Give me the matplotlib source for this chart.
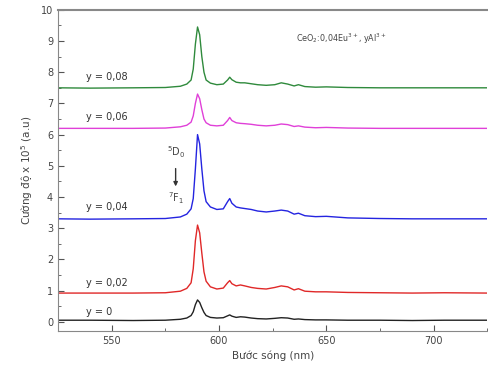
import matplotlib
matplotlib.use("Agg")
import matplotlib.pyplot as plt
from matplotlib.ticker import MultipleLocator

wavelength = [525, 540, 560, 575, 582, 585, 587, 588, 589, 590, 591, 592, 593, 594, 596, 599, 602, 604, 605, 606,
              608, 610, 612, 615, 618, 622, 626, 629, 632, 635, 637, 640, 645, 650, 660, 675, 690, 705, 725]

y008 = [7.50, 7.49, 7.50, 7.51, 7.55, 7.62, 7.75, 8.1, 8.9, 9.45, 9.2, 8.5, 8.0, 7.75, 7.65, 7.60, 7.62, 7.75, 7.84, 7.76,
        7.68, 7.66, 7.66, 7.63, 7.60, 7.58, 7.60, 7.66, 7.62, 7.56, 7.60, 7.54, 7.52, 7.53, 7.51, 7.50, 7.50, 7.50, 7.50]
y006 = [6.20, 6.20, 6.20, 6.21, 6.25, 6.30, 6.40, 6.6, 7.0, 7.3, 7.15, 6.8, 6.5, 6.38, 6.30, 6.28, 6.30, 6.45, 6.55, 6.45,
        6.38, 6.36, 6.35, 6.33, 6.30, 6.28, 6.30, 6.34, 6.32, 6.26, 6.28, 6.24, 6.22, 6.23, 6.21, 6.20, 6.20, 6.20, 6.20]
y004 = [3.30, 3.29, 3.30, 3.31, 3.36, 3.45, 3.62, 3.95, 4.9, 6.0, 5.7, 4.9, 4.2, 3.85, 3.68, 3.60, 3.62, 3.85, 3.95, 3.80,
        3.68, 3.65, 3.63, 3.60, 3.55, 3.52, 3.55, 3.58, 3.55, 3.45, 3.48, 3.40, 3.37, 3.38, 3.33, 3.31, 3.30, 3.30, 3.30]
y002 = [0.92, 0.92, 0.92, 0.93, 0.98, 1.07, 1.25, 1.7, 2.6, 3.1, 2.85, 2.2, 1.6, 1.3, 1.12, 1.05, 1.08, 1.25, 1.32, 1.22,
        1.15, 1.18, 1.15, 1.10, 1.07, 1.05, 1.10, 1.15, 1.12, 1.02, 1.06, 0.98, 0.96, 0.96, 0.94, 0.93, 0.92, 0.93, 0.92]
y000 = [0.05, 0.05, 0.04, 0.05, 0.08, 0.12, 0.2, 0.32, 0.55, 0.70, 0.62, 0.45, 0.3, 0.2, 0.14, 0.12, 0.13, 0.19, 0.22, 0.18,
        0.14, 0.16, 0.15, 0.12, 0.10, 0.09, 0.11, 0.13, 0.12, 0.08, 0.09, 0.07, 0.06, 0.06, 0.05, 0.05, 0.04, 0.05, 0.05]

series = [y008, y006, y004, y002, y000]
labels = ["y = 0,08", "y = 0,06", "y = 0,04", "y = 0,02", "y = 0"]
label_y = [7.85, 6.55, 3.68, 1.23, 0.3]
colors = ["#2f8a3c", "#e040d8", "#2424e0", "#e02828", "#222222"]

fig = plt.figure(figsize=(4.89, 3.78), dpi=100)
ax = fig.add_axes([0.1186, 0.124, 0.878, 0.85])
for s, c in zip(series, colors):
    ax.plot(wavelength, s, color=c, lw=1.0)
for lab, ly in zip(labels, label_y):
    ax.text(538, ly, lab, fontsize=7, color="#333333", va="center", ha="left")

ax.text(657, 9.06, "CeO$_2$:0,04Eu$^{3+}$, yAl$^{3+}$", fontsize=5.8, color="#444444", ha="center", va="center")
ax.text(579.8, 5.45, "$^5$D$_0$", fontsize=7, color="#444444", ha="center", va="center")
ax.annotate("", xy=(579.8, 4.25), xytext=(579.8, 5.0),
            arrowprops=dict(arrowstyle="-|>", color="#333333", lw=1, mutation_scale=6))
ax.text(579.8, 3.97, "$^7$F$_1$", fontsize=7, color="#444444", ha="center", va="center")

ax.set_xlim(525, 725)
ax.set_ylim(-0.3, 10)
ax.xaxis.set_major_locator(MultipleLocator(50))
ax.xaxis.set_minor_locator(MultipleLocator(25))
ax.yaxis.set_major_locator(MultipleLocator(1))
ax.yaxis.set_minor_locator(MultipleLocator(0.5))
ax.tick_params(which="both", direction="in", colors="#555555", labelsize=7, labelcolor="#444444")
ax.tick_params(which="major", length=4)
ax.tick_params(which="minor", length=2)
for sp in ["left", "bottom", "top"]:
    ax.spines[sp].set_color("#888888")
ax.spines["top"].set_linewidth(1.5)
ax.spines["right"].set_visible(False)
ax.set_xlabel("Bước sóng (nm)", fontsize=7.5, color="#444444", labelpad=3)
ax.set_ylabel("Cường độ x 10$^5$ (a.u)", fontsize=7.5, color="#444444", labelpad=4)

fig.savefig("out.png", dpi=100)
